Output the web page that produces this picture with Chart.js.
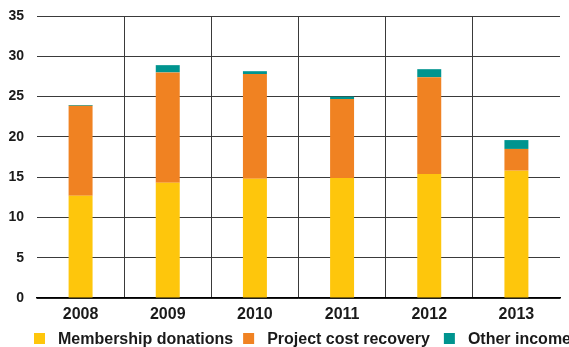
<!DOCTYPE html>
<html>
<head>
<meta charset="utf-8">
<script src="https://cdn.jsdelivr.net/npm/chart.js@4/dist/chart.umd.min.js"></script>
<style>
  html, body { margin: 0; padding: 0; background: #fff; }
  #wrap { width: 569px; height: 347px; }
</style>
</head>
<body>
<div id="wrap"><canvas id="incomeChart" width="569" height="347"></canvas></div>
<script>
// --- Data ---
const years = ['2008', '2009', '2010', '2011', '2012', '2013'];
const membershipDonations = [12.7, 14.3, 14.8, 14.9, 15.4, 15.8];
const projectCostRecovery = [11.15, 13.7, 13.0, 9.8, 12.0, 2.7];
const otherIncome = [0.1, 0.9, 0.35, 0.3, 1.0, 1.1];
const yTicks = [0, 5, 10, 15, 20, 25, 30, 35];

const seriesNames = ['Membership donations', 'Project cost recovery', 'Other income'];
const seriesColors = ['#fec60c', '#f08222', '#00948f'];

const fontFamily = "'Liberation Sans', Arial, Helvetica, sans-serif";

// --- Legend drawn along the bottom, boxes + bold labels ---
const bottomLegend = {
    id: 'bottomLegend',
    afterDraw(chart) {
        const ctx = chart.ctx;
        ctx.save();
        ctx.font = 'bold 16px ' + fontFamily;
        ctx.textBaseline = 'alphabetic';
        const gaps = [10, 14];
        let x = 34;
        chart.data.datasets.forEach((ds, i) => {
            ctx.fillStyle = ds.backgroundColor;
            ctx.fillRect(x, 333, 11, 11);
            ctx.fillStyle = '#1a1a1a';
            ctx.fillText(ds.label, x + 24, 344);
            x += 24 + ctx.measureText(ds.label).width + (gaps[i] || 0);
        });
        ctx.restore();
    }
};

const ctx = document.getElementById('incomeChart').getContext('2d');
new Chart(ctx, {
    type: 'bar',
    data: {
        labels: years,
        datasets: [
            { label: seriesNames[0], data: membershipDonations, backgroundColor: seriesColors[0] },
            { label: seriesNames[1], data: projectCostRecovery, backgroundColor: seriesColors[1] },
            { label: seriesNames[2], data: otherIncome, backgroundColor: seriesColors[2] }
        ]
    },
    options: {
        responsive: false,
        animation: false,
        devicePixelRatio: 1,
        layout: { padding: { top: 16, right: 9, bottom: 0, left: 0 } },
        datasets: {
            bar: { categoryPercentage: 1, barPercentage: 0.275, borderWidth: 0 }
        },
        plugins: {
            legend: { display: false },
            tooltip: { enabled: false }
        },
        scales: {
            x: {
                stacked: true,
                afterFit: scale => { scale.height = 49; },
                grid: {
                    offset: true,
                    drawTicks: false,
                    lineWidth: 1,
                    // no line at the outer left/right edges
                    color: c => (c.type !== 'tick' || c.index === 0) ? 'rgba(0,0,0,0)' : '#3a3a3a'
                },
                border: { display: true, color: '#000', width: 1.5 },
                ticks: {
                    padding: 7,
                    color: '#1a1a1a',
                    font: { family: fontFamily, size: 16, weight: 'bold' }
                }
            },
            y: {
                stacked: true,
                min: 0,
                max: 35,
                afterFit: scale => {
                    scale.width = 37;
                    // keep the tick padding from pushing the plot area down
                    scale.paddingTop = 0;
                    scale.paddingBottom = 0;
                },
                afterBuildTicks: scale => { scale.ticks = yTicks.map(v => ({ value: v })); },
                grid: { drawTicks: false, color: '#3a3a3a', lineWidth: 1 },
                border: { display: false },
                ticks: {
                    padding: 13,
                    color: '#1a1a1a',
                    font: { family: fontFamily, size: 14, weight: 'bold' }
                }
            }
        }
    },
    plugins: [bottomLegend]
});
</script>
</body>
</html>
